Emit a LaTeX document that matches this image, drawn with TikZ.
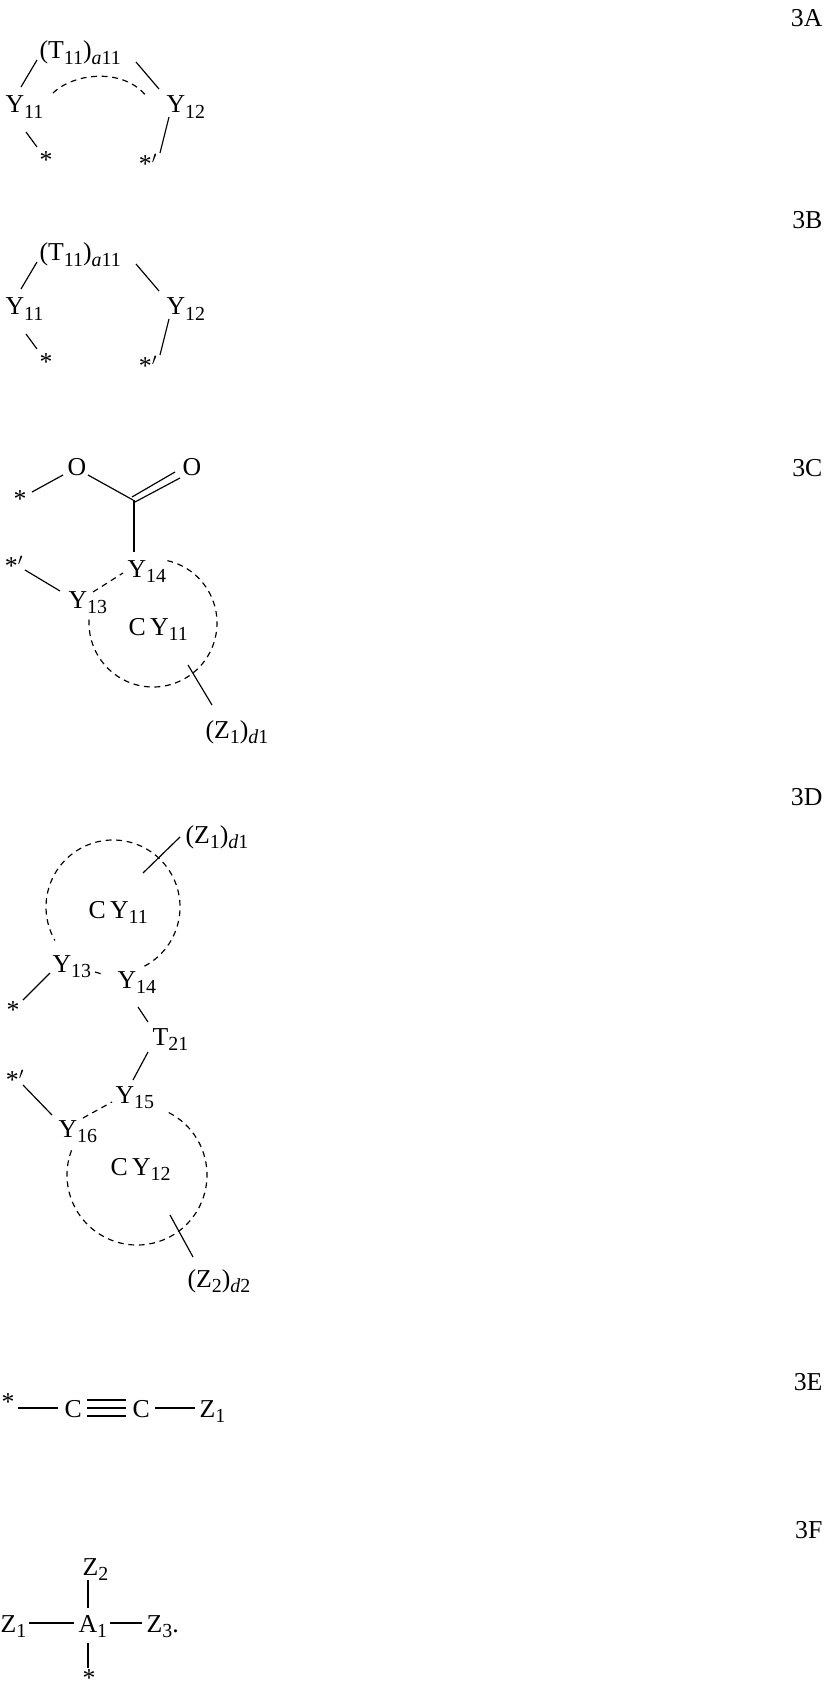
\documentclass[tikz,border=0pt]{standalone}
\usepackage{fontspec}
\setmainfont{Liberation Serif}
\begin{document}
\begin{tikzpicture}[x=0.03cm,y=-0.03cm,line width=1pt,
  lab/.style={inner sep=0pt,anchor=base west,font=\fontsize{22}{24}\selectfont},
  star/.style={inner sep=0pt,font=\fontsize{22}{24}\selectfont},
  fig/.style={inner sep=0pt,anchor=east,font=\fontsize{22}{24}\selectfont},
  ring/.style={dashed,dash pattern=on 5pt off 4pt}]
\useasboundingbox (0,0) rectangle (825,1692);
\newcommand{\sbs}[1]{\raisebox{-0.45ex}{\fontsize{17}{18}\selectfont #1}}
% 3A
\node[fig] (l3a) at (823,18) {3A};
\node[lab] (ta) at (39,59) {(T\sbs{11})\sbs{\textit{a}11}};
\node[lab] (y11a) at (5,113) {Y\sbs{11}};
\node[lab] (y12a) at (166,113) {Y\sbs{12}};
\node[star] (sa) at (46,160) {*};
\node[star] (spa) at (148,163) {*$'$};
\draw (21,87) -- (37,60);
\draw (136,62) -- (159,89);
\draw[ring] (53,93) .. controls (75,72) and (125,68) .. (147,97);
\draw (26,132) -- (37,147);
\draw (169,117) -- (160,153);
% 3B
\begin{scope}[yshift=-202*0.03cm]
\node[fig] (l3b) at (823,18) {3B};
\node[lab] (tb) at (39,59) {(T\sbs{11})\sbs{\textit{a}11}};
\node[lab] (y11b) at (5,113) {Y\sbs{11}};
\node[lab] (y12b) at (166,113) {Y\sbs{12}};
\node[star] (sb) at (46,160) {*};
\node[star] (spb) at (148,163) {*$'$};
\draw (21,87) -- (37,60);
\draw (136,62) -- (159,89);
\draw (26,132) -- (37,147);
\draw (169,117) -- (160,153);
\end{scope}
% 3C
\node[fig] (l3c) at (823,468) {3C};
\node[star] (sc) at (20,499) {*};
\node[star] (o1) at (77,467) {O};
\node[star] (o2) at (192,467) {O};
\draw (32,492) -- (63,475);
\draw (88,475) -- (133,500);
\draw (135,502) -- (180,478);
\draw (132,497) -- (175,472);
\draw (134,500) -- (134,552);
\node[lab] (y14c) at (127,577) {Y\sbs{14}};
\node[lab] (y13c) at (68,608) {Y\sbs{13}};
\node[star] (spc) at (14,565) {*$'$};
\draw (25,570) -- (60,591);
\draw[ring] (93,592) -- (123,573);
\draw[ring] (153,623) ++(-77:64) arc[start angle=-77,end angle=185,radius=64];
\node[lab] (cy11c) at (128,635) {C\,Y\sbs{11}};
\draw (188,665) -- (212,705);
\node[lab] (z1c) at (205,738) {(Z\sbs{1})\sbs{\textit{d}1}};
% 3D
\node[fig] (l3d) at (823,797) {3D};
\node[lab] (z1d) at (185,843) {(Z\sbs{1})\sbs{\textit{d}1}};
\draw (143,873) -- (180,837);
\draw[ring] (113,907) ++(62:67) arc[start angle=62,end angle=-210,radius=67];
\node[lab] (cy11d) at (88,918) {C\,Y\sbs{11}};
\node[lab] (y13d) at (52,972) {Y\sbs{13}};
\node[lab] (y14d) at (117,988) {Y\sbs{14}};
\draw[ring] (95,972) -- (102,974);
\node[star] (sd) at (13,1010) {*};
\draw (23,1000) -- (50,973);
\draw (138,1007) -- (148,1022);
\node[lab] (t21) at (152,1045) {T\sbs{21}};
\draw (148,1052) -- (133,1080);
\node[lab] (y15d) at (115,1103) {Y\sbs{15}};
\node[star] (spd) at (15,1079) {*$'$};
\draw (23,1085) -- (52,1115);
\node[lab] (y16d) at (58,1137) {Y\sbs{16}};
\draw[ring] (83,1118) -- (112,1102);
\draw[ring] (137,1175) ++(-63:70) arc[start angle=-63,end angle=203,radius=70];
\node[lab] (cy12d) at (110,1175) {C\,Y\sbs{12}};
\draw (170,1215) -- (193,1257);
\node[lab] (z2d) at (187,1287) {(Z\sbs{2})\sbs{\textit{d}2}};
% 3E
\node[fig] (l3e) at (823,1382) {3E};
\node[star] (se) at (8,1402) {*};
\node[lab] (c1) at (64,1417) {C};
\node[lab] (c2) at (132,1417) {C};
\node[lab] (z1e) at (199,1417) {Z\sbs{1}};
\draw (18,1408) -- (58,1408);
\draw[line width=1.3pt] (87,1400) -- (126,1400);
\draw[line width=1.3pt] (87,1408) -- (126,1408);
\draw[line width=1.3pt] (87,1416) -- (126,1416);
\draw (155,1408) -- (195,1408);
% 3F
\node[fig] (l3f) at (823,1530) {3F};
\node[lab] (z2f) at (82,1575) {Z\sbs{2}};
\node[lab] (z1f) at (0,1632) {Z\sbs{1}};
\node[lab] (a1) at (78,1632) {A\sbs{1}};
\node[lab] (z3f) at (146,1632) {Z\sbs{3}.};
\node[star] (sf) at (89,1678) {*};
\draw (88,1580) -- (88,1608);
\draw (29,1623) -- (74,1623);
\draw (110,1623) -- (142,1623);
\draw (88,1643) -- (88,1668);
\end{tikzpicture}
\end{document}
